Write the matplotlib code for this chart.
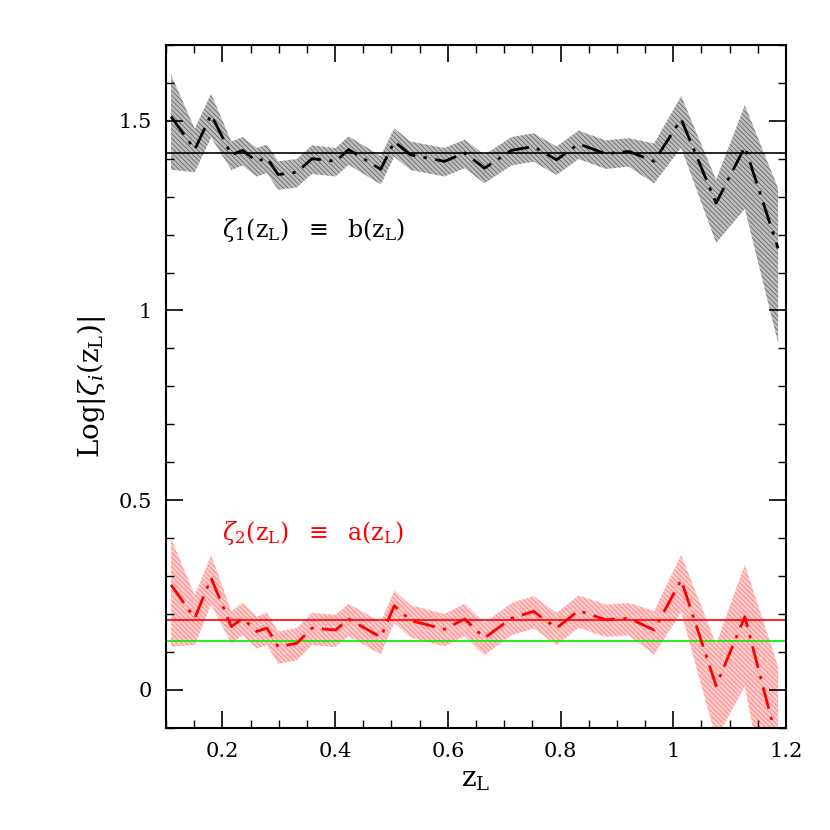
import matplotlib
matplotlib.use("Agg")
import matplotlib.pyplot as plt
from matplotlib.ticker import MultipleLocator, FormatStrFormatter
import numpy as np

plt.rcParams['font.family'] = ['DejaVu Serif']
plt.rcParams['mathtext.fontset'] = 'dejavuserif'
plt.rcParams['hatch.linewidth'] = 0.45

# lens redshift bins
z = [0.109, 0.151, 0.180, 0.216, 0.236, 0.261, 0.279, 0.299, 0.332, 0.359,
     0.401, 0.424, 0.481, 0.505, 0.534, 0.594, 0.630, 0.665, 0.713, 0.752,
     0.793, 0.832, 0.880, 0.921, 0.966, 1.014, 1.076, 1.127, 1.186]

# zeta_1 = b(z_L)
b_val = [1.511, 1.424, 1.516, 1.410, 1.422, 1.393, 1.402, 1.358, 1.364, 1.400,
         1.393, 1.424, 1.372, 1.445, 1.410, 1.393, 1.415, 1.375, 1.422, 1.432,
         1.397, 1.439, 1.413, 1.419, 1.393, 1.504, 1.283, 1.431, 1.164]
b_hi = [0.110, 0.055, 0.055, 0.035, 0.035, 0.035, 0.035, 0.035, 0.035, 0.035,
        0.035, 0.035, 0.035, 0.035, 0.035, 0.035, 0.035, 0.035, 0.035, 0.035,
        0.035, 0.035, 0.035, 0.035, 0.047, 0.061, 0.061, 0.110, 0.158]
b_lo = [0.140, 0.060, 0.060, 0.040, 0.040, 0.040, 0.040, 0.040, 0.040, 0.040,
        0.040, 0.040, 0.040, 0.040, 0.040, 0.040, 0.040, 0.040, 0.040, 0.040,
        0.040, 0.040, 0.040, 0.040, 0.058, 0.075, 0.105, 0.163, 0.250]
b_mean = 1.415

# zeta_2 = a(z_L)
a_val = [0.277, 0.189, 0.295, 0.167, 0.189, 0.154, 0.163, 0.114, 0.123, 0.163,
         0.158, 0.187, 0.139, 0.222, 0.183, 0.160, 0.187, 0.137, 0.189, 0.207,
         0.163, 0.209, 0.185, 0.189, 0.158, 0.290, 0.011, 0.193, -0.145]
a_hi = [0.123, 0.060, 0.060, 0.040, 0.040, 0.040, 0.040, 0.040, 0.040, 0.040,
        0.040, 0.040, 0.040, 0.040, 0.040, 0.040, 0.040, 0.040, 0.040, 0.040,
        0.040, 0.040, 0.040, 0.040, 0.050, 0.066, 0.110, 0.137, 0.207]
a_lo = [0.163, 0.070, 0.070, 0.045, 0.045, 0.045, 0.045, 0.045, 0.045, 0.045,
        0.045, 0.045, 0.045, 0.045, 0.045, 0.045, 0.045, 0.045, 0.045, 0.045,
        0.045, 0.045, 0.045, 0.045, 0.065, 0.085, 0.140, 0.184, 0.300]
a_mean = 0.185
green_level = 0.128

zz = np.array(z)
bv, bh, bl = map(np.array, (b_val, b_hi, b_lo))
av, ah, al = map(np.array, (a_val, a_hi, a_lo))

fig = plt.figure(figsize=(8.3, 8.3), dpi=100)
ax = fig.add_axes([0.2, 0.123, 0.747, 0.823])

ax.fill_between(zz, bv - bl, bv + bh, facecolor='#bdbdbd', edgecolor='#505050',
                hatch='\\\\\\\\\\\\\\', linewidth=0)
ax.fill_between(zz, av - al, av + ah, facecolor='#ffcaca', edgecolor='#ff7070',
                hatch='\\\\\\\\\\\\\\', linewidth=0)

ax.axhline(b_mean, color='black', lw=1.2)
ax.axhline(a_mean, color='red', lw=1.2)
ax.axhline(green_level, color='#00ee00', lw=1.2)

dd = (0, (8, 3, 1.2, 3))
ax.plot(zz, bv, color='black', lw=2, linestyle=dd)
ax.plot(zz, av, color='red', lw=2, linestyle=dd)

ax.text(0.2, 1.213, r'$\zeta_1(\mathrm{z_L})\ \ \equiv\ \ \mathrm{b}(\mathrm{z_L})$',
        fontsize=17, color='black', va='center', ha='left')
ax.text(0.2, 0.414, r'$\zeta_2(\mathrm{z_L})\ \ \equiv\ \ \mathrm{a}(\mathrm{z_L})$',
        fontsize=17, color='red', va='center', ha='left')

ax.set_xlim(0.1, 1.2)
ax.set_ylim(-0.1, 1.7)
ax.xaxis.set_major_locator(MultipleLocator(0.2))
ax.xaxis.set_minor_locator(MultipleLocator(0.05))
ax.yaxis.set_major_locator(MultipleLocator(0.5))
ax.yaxis.set_minor_locator(MultipleLocator(0.1))
ax.xaxis.set_major_formatter(FormatStrFormatter('%g'))
ax.yaxis.set_major_formatter(FormatStrFormatter('%g'))
ax.tick_params(which='both', direction='in', top=True, right=True, labelsize=15)
ax.tick_params(which='major', length=12, width=1.2, pad=10)
ax.tick_params(which='minor', length=6, width=1.0)
for s in ax.spines.values():
    s.set_linewidth(1.5)

ax.set_xlabel(r'$\mathrm{z_L}$', fontsize=20, labelpad=4)
ax.set_ylabel(r'$\mathrm{Log}|\zeta_i(\mathrm{z_L})|$', fontsize=20, labelpad=8)

fig.savefig('out.png', dpi=100)
